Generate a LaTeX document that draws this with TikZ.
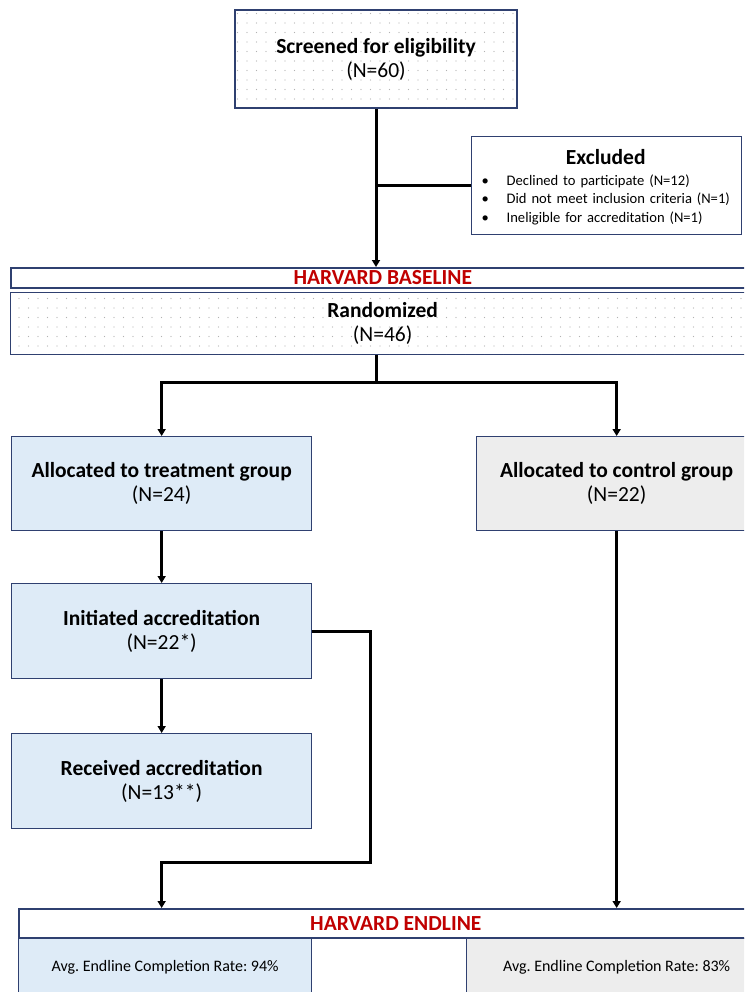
\documentclass[tikz,border=0pt]{standalone}
\usepackage{fontspec}
\setmainfont{Carlito}
\frenchspacing
\usetikzlibrary{arrows.meta,positioning,patterns.meta}
\definecolor{boxline}{HTML}{2F4070}
\definecolor{treatfill}{HTML}{DEEBF7}
\definecolor{ctrlfill}{HTML}{EDEDED}
\definecolor{harvred}{HTML}{C00000}
\tikzset{
	flowbox/.style={draw=boxline, line width=1.3pt, align=center, inner sep=0pt,
		font=\fontsize{21.5}{24}\selectfont},
	dotbox/.style={flowbox, fill=white,
		postaction={pattern={Dots[radius=0.55pt,distance=9.5pt]}, pattern color=black!30}},
	treatbox/.style={flowbox, fill=treatfill},
	ctrlbox/.style={flowbox, fill=ctrlfill},
	barbox/.style={draw=boxline, line width=1.6pt, fill=white, inner sep=0pt,
		text=harvred, font=\fontsize{21.5}{22}\selectfont\bfseries},
	ratebox/.style={draw=boxline, line width=1.3pt, inner sep=0pt,
		font=\fontsize{16}{18}\selectfont},
	conn/.style={draw=black, line width=3pt},
	connarrow/.style={conn, -{Triangle[length=7pt,width=8pt]}},
}

\begin{document}
\begin{tikzpicture}[x=1pt, y=-1pt]
	\useasboundingbox (0,0) rectangle (744,992);
	\clip (0,0) rectangle (744,992);
	% screening
	\node[dotbox, minimum width=282pt, minimum height=98pt] (screen) at (376,59)
		{\textbf{Screened for eligibility}\\(N=60)};
	\node[flowbox, fill=white, minimum width=270pt, minimum height=98pt, anchor=north west,
		text width=250pt, align=left, font=\fontsize{14.6}{18.5}\selectfont] (excl) at (471,136)
		{\raisebox{-3pt}[\height][\depth]{\begin{tabular}{@{}l@{}}
			\multicolumn{1}{c}{\fontsize{21.5}{24}\selectfont\textbf{Excluded}}\\[2pt]
			\makebox[25pt][l]{\textbullet}Declined to participate (N=12)\\
			\makebox[25pt][l]{\textbullet}Did not meet inclusion criteria (N=1)\\
			\makebox[25pt][l]{\textbullet}Ineligible for accreditation (N=1)
		\end{tabular}}};
	% baseline
	\node[barbox, minimum width=744pt, minimum height=20pt, anchor=north west] (base) at (10,267) {HARVARD BASELINE};
	\node[dotbox, minimum width=744pt, minimum height=62pt, anchor=north west] (rand) at (10,292)
		{\textbf{Randomized}\\(N=46)};
	% arms
	\node[treatbox, minimum width=300pt, minimum height=94pt, anchor=north west] (treat) at (11,436)
		{\textbf{Allocated to treatment group}\\(N=24)};
	\node[ctrlbox, minimum width=280pt, minimum height=94pt, anchor=north west] (ctrl) at (476,436)
		{\textbf{Allocated to control group}\\(N=22)};
	\node[treatbox, minimum width=300pt, minimum height=95pt, anchor=north west] (init) at (11,583)
		{\textbf{Initiated accreditation}\\(N=22*)};
	\node[treatbox, minimum width=300pt, minimum height=95pt, anchor=north west] (recv) at (11,733)
		{\textbf{Received accreditation}\\(N=13**)};
	% endline
	\node[barbox, minimum width=754pt, minimum height=29pt, anchor=north west] (endl) at (18,908) {HARVARD ENDLINE};
	\node[ratebox, fill=treatfill, minimum width=293pt, minimum height=58pt, anchor=north west] (ratet) at (18,938)
		{Avg. Endline Completion Rate: 94\%};
	\node[ratebox, fill=ctrlfill, minimum width=300pt, minimum height=58pt, anchor=north west] (ratec) at (466,938)
		{Avg. Endline Completion Rate: 83\%};
	% connectors
	\draw[connarrow] (screen.south) -- (screen.south |- base.north);
	\draw[conn] (screen.south |- excl.west) -- (excl.west);
	\draw[conn] (screen.south |- rand.south) -- ++(0,27) coordinate (split);
	\draw[connarrow] (split) -| (treat.north);
	\draw[connarrow] (split) -| (ctrl.north);
	\draw[connarrow] (treat.south) -- (init.north);
	\draw[connarrow] (init.south) -- (recv.north);
	\coordinate (bend) at (370,862);
	\draw[connarrow] (init.east) -| (bend) -| (endl.north -| treat.south);
	\draw[connarrow] (ctrl.south) -- (ctrl.south |- endl.north);
\end{tikzpicture}
\end{document}
